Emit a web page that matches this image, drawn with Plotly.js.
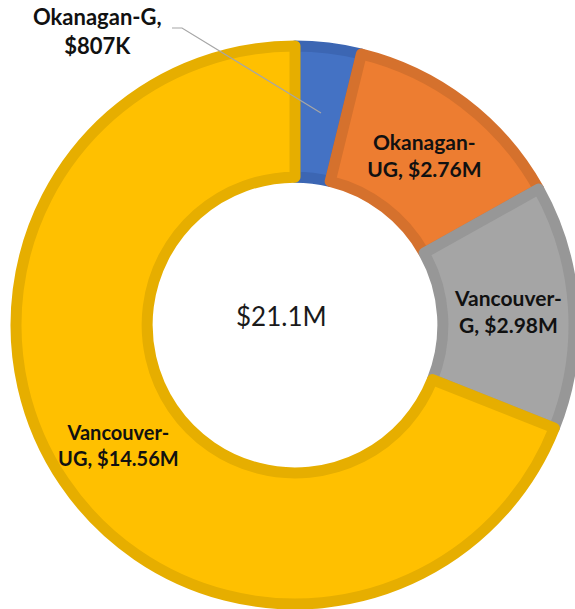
<!DOCTYPE html>
<html>
<head>
<meta charset="utf-8">
<script src="https://cdn.plot.ly/plotly-3.0.1.min.js"></script>
<style>html,body{margin:0;padding:0;overflow:hidden;background:#fff}#chart{width:575px;height:609px}</style>
</head>
<body>
<div id="chart"></div>
<script>
const categories = ["Okanagan-G", "Okanagan-UG", "Vancouver-G", "Vancouver-UG"];
const values = [0.807, 2.76, 2.98, 14.56];
const valueLabels = ["$807K", "$2.76M", "$2.98M", "$14.56M"];
const totalLabel = "$21.1M";
const fillColors = ["#4472c4", "#ed7d31", "#a5a5a5", "#ffc000"];
const borderColors = ["#3c66b3", "#d5712d", "#979797", "#e6ae00"];

const W = 575, H = 609;
const M = {l: 16, r: 1, t: 46, b: 5};
const pw = W - M.l - M.r, ph = H - M.t - M.b;
const px = x => (x - M.l) / pw;
const py = y => 1 - (y - M.t) / ph;

const sliceText = categories.map((c, i) => c.replace("-", "-<br>") + ", " + valueLabels[i]);
const FONT = "Lato, 'Open Sans', sans-serif";

const trace = {
  type: "pie",
  labels: categories,
  values: values,
  text: sliceText,
  texttemplate: "<b>%{text}</b>",
  textinfo: "text",
  textposition: ["none", "inside", "inside", "inside"],
  insidetextorientation: "horizontal",
  textfont: {family: FONT, size: [21, 21, 21, 20], color: "#111"},
  hole: 0.53,
  sort: false,
  direction: "clockwise",
  rotation: 0,
  marker: {colors: fillColors, line: {color: borderColors, width: 11}},
  hoverinfo: "none",
  showlegend: false
};

const layout = {
  width: W, height: H,
  margin: M,
  paper_bgcolor: "#fff",
  showlegend: false,
  annotations: [
    {xref: "paper", yref: "paper", x: px(281), y: py(316), text: totalLabel, showarrow: false,
     font: {family: FONT, size: 26, color: "#1a1a1a"}, xanchor: "center", yanchor: "middle"},
    {xref: "paper", yref: "paper", x: px(97), y: py(31),
     text: "<b>" + categories[0] + ",<br>" + valueLabels[0] + "</b>", showarrow: false,
     font: {family: FONT, size: 22, color: "#111"}, xanchor: "center", yanchor: "middle", align: "center"}
  ],
  shapes: [
    {type: "path", xref: "paper", yref: "paper",
     path: `M ${px(172)} ${py(28)} L ${px(182)} ${py(28)} L ${px(321)} ${py(113)}`,
     line: {color: "#a6a6a6", width: 1.2}}
  ]
};

Plotly.newPlot("chart", [trace], layout, {displayModeBar: false, staticPlot: true});
</script>
</body>
</html>
